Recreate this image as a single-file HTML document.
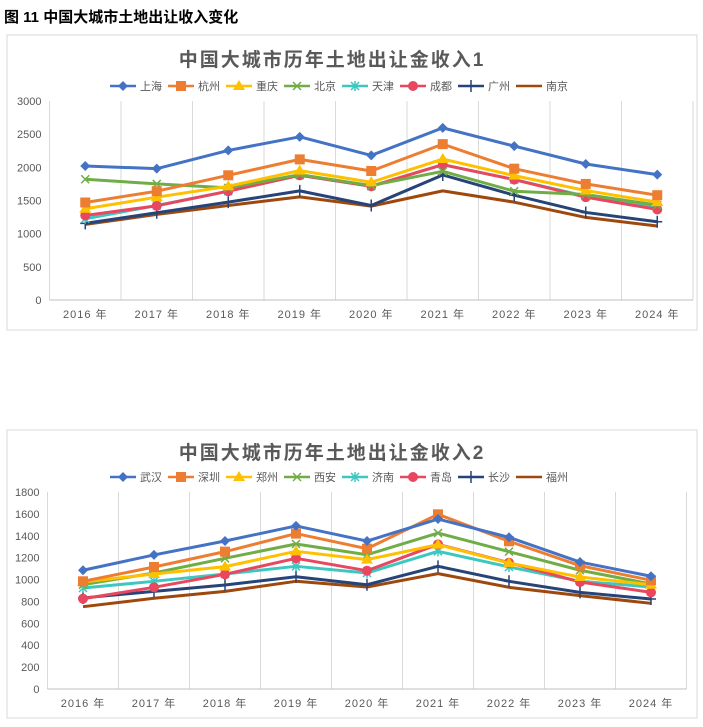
<!DOCTYPE html>
<html><head><meta charset="utf-8">
<style>
body{margin:0;background:#fff;width:703px;height:727px;overflow:hidden;font-family:"Liberation Sans","Noto Sans CJK SC",sans-serif;}
#hdr{position:absolute;left:4px;top:6px;font-size:15px;font-weight:bold;color:#000;}
svg{position:absolute;left:0;top:0;}
</style></head><body>
<div id="hdr">图 11 中国大城市土地出让收入变化</div>
<svg id="svg" width="703" height="727"></svg>
<script>
const years=["2016 年","2017 年","2018 年","2019 年","2020 年","2021 年","2022 年","2023 年","2024 年"];
const colors=["#4472C4","#ED7D31","#FFC000","#70AD47","#3CC8C0","#E8475F","#264478","#9E480E"];
const markers=["diamond","square","triangle","x","star","circle","plus","none"];
const cities1=["上海","杭州","重庆","北京","天津","成都","广州","南京"];
const shanghai=[2020,1980,2255,2460,2180,2595,2320,2050,1890];
const hangzhou=[1470,1640,1880,2120,1945,2350,1980,1750,1580];
const chongqing=[1375,1550,1715,1950,1775,2125,1875,1650,1475];
const beijing=[1820,1750,1690,1890,1725,1940,1640,1590,1430];
const tianjin=[1225,1425,1640,1880,1715,2040,1815,1565,1405];
const chengdu=[1275,1420,1640,1880,1715,2040,1815,1550,1365];
const guangzhou=[1155,1315,1475,1645,1425,1885,1580,1320,1180];
const nanjing=[1140,1290,1425,1555,1415,1645,1475,1245,1115];
const ticks1=[0,500,1000,1500,2000,2500,3000];
const cities2=["武汉","深圳","郑州","西安","济南","青岛","长沙","福州"];
const wuhan=[1085,1225,1352,1490,1352,1553,1386,1160,1030];
const shenzhen=[984,1115,1255,1420,1282,1596,1350,1127,993];
const zhengzhou=[978,1051,1118,1258,1182,1319,1151,1023,953];
const xian=[953,1060,1194,1325,1227,1425,1255,1085,960];
const jinan=[923,984,1051,1121,1060,1258,1115,984,932];
const qingdao=[825,929,1048,1194,1081,1322,1154,978,883];
const changsha=[832,892,950,1026,953,1121,984,883,822];
const fuzhou=[752,829,892,984,932,1054,929,853,783];
const ticks2=[0,200,400,600,800,1000,1200,1400,1600,1800];

const NS="http://www.w3.org/2000/svg";
const svg=document.getElementById('svg');
function mk(tag,attrs,parent){const e=document.createElementNS(NS,tag);for(const k in attrs)e.setAttribute(k,attrs[k]);(parent||svg).appendChild(e);return e;}
function marker(g,type,x,y,c){
  if(type==="diamond")mk('polygon',{points:`${x},${y-5} ${x+5},${y} ${x},${y+5} ${x-5},${y}`,fill:c},g);
  else if(type==="square")mk('rect',{x:x-5,y:y-5,width:10,height:10,fill:c},g);
  else if(type==="triangle")mk('polygon',{points:`${x},${y-6} ${x+6},${y+4} ${x-6},${y+4}`,fill:c},g);
  else if(type==="x"){mk('path',{d:`M${x-4} ${y-4}L${x+4} ${y+4}M${x+4} ${y-4}L${x-4} ${y+4}`,stroke:c,'stroke-width':1.5},g);}
  else if(type==="star"){mk('path',{d:`M${x-4} ${y-4}L${x+4} ${y+4}M${x+4} ${y-4}L${x-4} ${y+4}M${x} ${y-5}L${x} ${y+5}`,stroke:c,'stroke-width':1.5},g);}
  else if(type==="circle")mk('circle',{cx:x,cy:y,r:5,fill:c},g);
  else if(type==="plus"){mk('path',{d:`M${x-5} ${y}L${x+5} ${y}M${x} ${y-6}L${x} ${y+6}`,stroke:c,'stroke-width':1.5},g);}
}
function chart(o){
  const box=mk('rect',{x:o.bx,y:o.by,width:o.bw,height:o.bh,fill:'#fff',stroke:'#d9d9d9'});
  
  const t=mk('text',{x:o.bx+o.bw/2-20,y:o.titleY,'text-anchor':'middle','font-size':19,'font-weight':'bold',fill:'#595959','letter-spacing':'2'});
  t.textContent=o.title;
  const ys=v=>o.y0-(v/o.max)*(o.y0-o.y1);
  const xs=i=>o.x0+o.step*(i+0.5);
  for(let i=0;i<=years.length;i++){
    const gx=o.x0+o.step*i;
    const gl=mk('line',{x1:gx,x2:gx,y1:o.y1,y2:o.y0,stroke:'#d9d9d9'});
    
  }
  const ax=mk('line',{x1:o.x0,x2:o.x0+o.step*9,y1:o.y0,y2:o.y0,stroke:'#bfbfbf'});
  
  o.ticks.forEach(v=>{const tt=mk('text',{x:o.x0-8,y:ys(v)+4,'text-anchor':'end','font-size':11,fill:'#595959'});tt.textContent=v;
    });
  years.forEach((yr,i)=>{const tt=mk('text',{x:xs(i),y:o.y0+18,'text-anchor':'middle','font-size':11,fill:'#595959','letter-spacing':'1'});tt.textContent=yr;
    });
  const order=[7,6,4,5,3,2,1,0];
  order.forEach(s=>{
    const g=mk('g',{});
    
    const pts=o.series[s].map((v,i)=>xs(i)+','+ys(v)).join(' ');
    mk('polyline',{points:pts,fill:'none',stroke:colors[s],'stroke-width':3,'stroke-linejoin':'round'},g);
    o.series[s].forEach((v,i)=>marker(g,markers[s],xs(i),ys(v),colors[s]));
  });
  o.cities.forEach((c,s)=>{
    const lx=o.lx+s*o.ls;const g=mk('g',{});
    
    mk('line',{x1:lx,x2:lx+26,y1:o.ly,y2:o.ly,stroke:colors[s],'stroke-width':2.5},g);
    marker(g,markers[s],lx+13,o.ly,colors[s]);
    const tt=mk('text',{x:lx+30,y:o.ly+4,'font-size':11,fill:'#595959'},g);tt.textContent=c;
  });
}
chart({name:'chart1',bx:7,by:35,bw:690,bh:295,title:'中国大城市历年土地出让金收入1',titleY:66,
  x0:49.5,step:71.5,y0:300,y1:101,max:3000,ticks:ticks1,cities:cities1,
  series:[shanghai,hangzhou,chongqing,beijing,tianjin,chengdu,guangzhou,nanjing],lx:110,ly:86,ls:58});
chart({name:'chart2',bx:7,by:430,bw:690,bh:288,title:'中国大城市历年土地出让金收入2',titleY:459,
  x0:47.5,step:71,y0:689,y1:492,max:1800,ticks:ticks2,cities:cities2,
  series:[wuhan,shenzhen,zhengzhou,xian,jinan,qingdao,changsha,fuzhou],lx:110,ly:477,ls:58});
</script>
</body></html>
